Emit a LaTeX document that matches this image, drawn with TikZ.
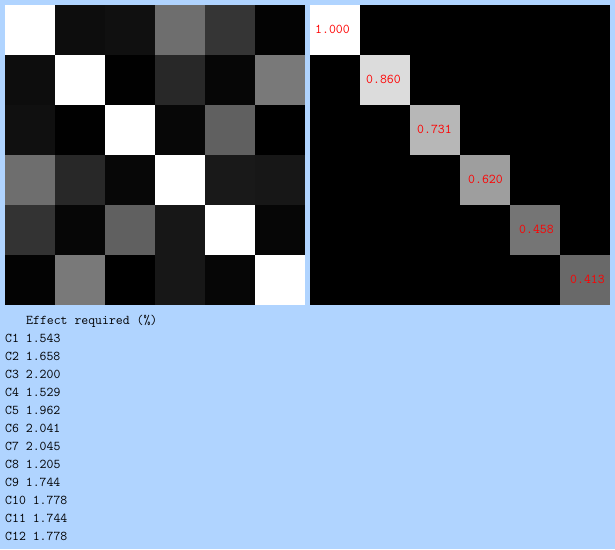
\documentclass[tikz,border=0pt]{standalone}
\usepackage{fontspec}
\definecolor{bgblue}{RGB}{176,212,255}
\definecolor{txtred}{RGB}{255,0,0}
\begin{document}
\begin{tikzpicture}[x=1pt,y=-1pt,
  cell/.style={anchor=north west,minimum size=50pt,inner sep=0pt,outer sep=0pt,draw=none},
  monotext/.style={font=\ttfamily\fontsize{13.4}{13.4}\selectfont,inner sep=0pt,anchor=base west},
  redtext/.style={monotext,text=txtred}]
\fill[bgblue] (0,0) rectangle (615,549);
\useasboundingbox (0,0) rectangle (615,549);
% left correlation-like matrix
\foreach \row [count=\r from 0] in {{255,13,16,110,53,3},{13,255,1,40,6,121},{16,1,255,7,96,0},{110,40,7,255,25,23},{51,6,96,23,255,6},{3,121,0,23,6,255}}{
  \foreach \v [count=\c from 0] in \row {
    \definecolor{tmpgray}{RGB}{\v,\v,\v}
    \node[cell,fill=tmpgray] (L\r\c) at (5+50*\c,5+50*\r) {};
  }
}
% right diagonal matrix
\node[cell,fill=black,minimum size=300pt] (R) at (310,5) {};
\foreach \v/\t [count=\i from 0] in {255/1.000,220/0.860,183/0.731,158/0.620,117/0.458,105/0.413}{
  \definecolor{tmpgray}{RGB}{\v,\v,\v}
  \node[cell,fill=tmpgray] (D\i) at (310+50*\i,5+50*\i) {};
  \node[redtext] (T\i) at (315+51*\i,33+50*\i) {\t};
}
% table text
\node[monotext] (hdr) at (26,324) {Effect required (\%)};
\foreach \t [count=\i] in {1.543,1.658,2.200,1.529,1.962,2.041,2.045,1.205,1.744,1.778,1.744,1.778}{
  \node[monotext] (C\i) at (5,342+18*\i-18) {C\i\ \t};
}
\end{tikzpicture}
\end{document}
